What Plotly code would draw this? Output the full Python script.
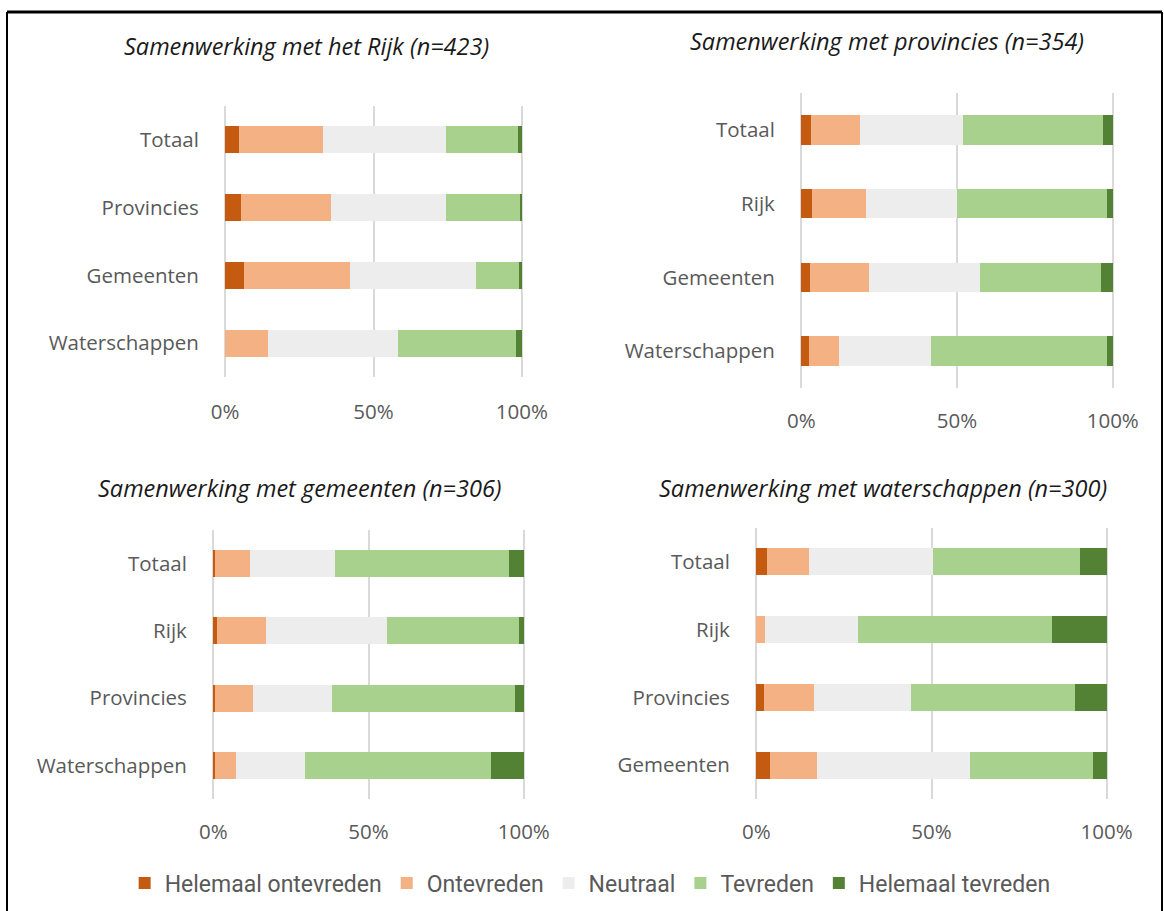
import plotly.graph_objects as go

# Answer categories (legend order) and their colours
categories = ["Helemaal ontevreden", "Ontevreden", "Neutraal", "Tevreden", "Helemaal tevreden"]
colors = ["#C55A11", "#F4B183", "#EDEDED", "#A9D18E", "#548235"]

# Panel titles
titles = [
    "Samenwerking met het Rijk (n=423)",
    "Samenwerking met provincies (n=354)",
    "Samenwerking met gemeenten (n=306)",
    "Samenwerking met waterschappen (n=300)",
]

# Row labels per panel (top to bottom)
rows_rijk = ["Totaal", "Provincies", "Gemeenten", "Waterschappen"]
rows_provincies = ["Totaal", "Rijk", "Gemeenten", "Waterschappen"]
rows_gemeenten = ["Totaal", "Rijk", "Provincies", "Waterschappen"]
rows_waterschappen = ["Totaal", "Rijk", "Provincies", "Gemeenten"]

# Percentages per row: [helemaal ontevreden, ontevreden, neutraal, tevreden, helemaal tevreden]
pct_rijk = [
    [4.5, 28.6, 41.4, 24.3, 1.2],
    [5.4, 30.3, 38.6, 25.2, 0.5],
    [6.5, 35.6, 42.3, 14.6, 1.0],
    [0.0, 14.6, 43.8, 39.7, 1.9],
]
pct_provincies = [
    [3.2, 15.7, 33.0, 45.1, 3.0],
    [3.6, 17.2, 29.1, 48.2, 1.9],
    [2.9, 18.9, 35.7, 38.6, 3.9],
    [2.6, 9.5, 29.7, 56.3, 1.9],
]
pct_gemeenten = [
    [0.5, 11.4, 27.3, 55.9, 4.9],
    [1.3, 15.7, 39.1, 42.3, 1.6],
    [0.5, 12.4, 25.2, 59.0, 2.9],
    [0.5, 6.9, 22.2, 60.0, 10.4],
]
pct_waterschappen = [
    [2.9, 12.0, 35.4, 42.2, 7.5],
    [0.0, 2.4, 26.6, 55.3, 15.7],
    [2.2, 14.3, 27.6, 46.9, 9.0],
    [4.0, 13.3, 43.6, 35.1, 4.0],
]

x_ticks = [0, 50, 100]
x_ticklabels = ["0%", "50%", "100%"]

W, H = 1164, 911
TEXT = "#595959"
FONT = "Open Sans"

# pixel boxes of each plot area: (x0, x1, y_top, y_bottom)
boxes = [
    (225, 522, 106, 377),
    (801, 1113, 93, 388),
    (213, 524, 530, 799),
    (756, 1107, 528, 799),
]
# gap between plot bottom and the % labels
x_ticklen = [16, 14, 14, 14]
title_pos = [(306, 46), (887, 41), (300, 488), (883, 488)]

panels = [
    (rows_rijk, pct_rijk),
    (rows_provincies, pct_provincies),
    (rows_gemeenten, pct_gemeenten),
    (rows_waterschappen, pct_waterschappen),
]

fig = go.Figure()
layout = {}
annotations = []

for i, (rows, pct) in enumerate(panels):
    n = "" if i == 0 else str(i + 1)
    xa, ya = "x" + n, "y" + n
    for j, cat in enumerate(categories):
        fig.add_trace(go.Bar(
            y=rows,
            x=[r[j] for r in pct],
            orientation="h",
            name=cat,
            marker=dict(color=colors[j], line=dict(width=0)),
            xaxis=xa,
            yaxis=ya,
            showlegend=(i == 0),
            legendgroup=cat,
        ))

    x0, x1, yt, yb = boxes[i]
    # small padding so the 0% and 100% gridlines are drawn too
    pad = 0.4
    layout["xaxis" + n] = dict(
        domain=[(x0 - 1) / W, (x1 + 1) / W],
        anchor=ya,
        range=[-pad, 100 + pad],
        tickvals=x_ticks,
        ticktext=x_ticklabels,
        showgrid=True,
        gridcolor="#D9D9D9",
        gridwidth=1.5,
        zeroline=False,
        showline=False,
        ticks="outside",
        ticklen=x_ticklen[i],
        tickcolor="rgba(0,0,0,0)",
        tickfont=dict(size=20.5, color=TEXT, family=FONT),
        automargin=False,
        fixedrange=True,
    )
    layout["yaxis" + n] = dict(
        domain=[1 - yb / H, 1 - yt / H],
        anchor=xa,
        categoryorder="array",
        categoryarray=rows[::-1],
        showgrid=False,
        zeroline=False,
        showline=False,
        ticks="outside",
        ticklen=20,
        tickcolor="rgba(0,0,0,0)",
        tickfont=dict(size=20.5, color=TEXT, family=FONT),
        automargin=False,
        fixedrange=True,
    )
    tx, ty = title_pos[i]
    annotations.append(dict(
        text="<i>" + titles[i] + "</i>",
        x=tx / W, y=1 - ty / H,
        xref="paper", yref="paper",
        xanchor="center", yanchor="middle",
        showarrow=False,
        font=dict(size=23.5, color="#1a1a1a", family=FONT),
    ))

# frame around the figure
shapes = [
    dict(type="line", xref="paper", yref="paper", x0=7 / W, x1=1162 / W,
         y0=1 - 12 / H, y1=1 - 12 / H, line=dict(color="black", width=3)),
    dict(type="line", xref="paper", yref="paper", x0=7 / W, x1=7 / W,
         y0=0, y1=1 - 12 / H, line=dict(color="black", width=2)),
    dict(type="line", xref="paper", yref="paper", x0=1162 / W, x1=1162 / W,
         y0=0, y1=1 - 12 / H, line=dict(color="black", width=2)),
]

fig.update_layout(
    **layout,
    barmode="stack",
    bargap=0.6,
    width=W,
    height=H,
    margin=dict(l=0, r=0, t=0, b=0, autoexpand=False),
    paper_bgcolor="white",
    plot_bgcolor="white",
    annotations=annotations,
    shapes=shapes,
    legend=dict(
        orientation="h",
        x=0.507, xanchor="center",
        y=1 - 883 / H, yanchor="middle",
        font=dict(size=23, color=TEXT, family="Roboto"),
        itemwidth=30,
        tracegroupgap=0,
        traceorder="normal",
        itemclick=False,
        itemdoubleclick=False,
    ),
)

fig.write_html(
    "out.html",
    config={"displayModeBar": False},
    post_script="document.body.style.margin='0';document.body.style.overflow='hidden';",
)
